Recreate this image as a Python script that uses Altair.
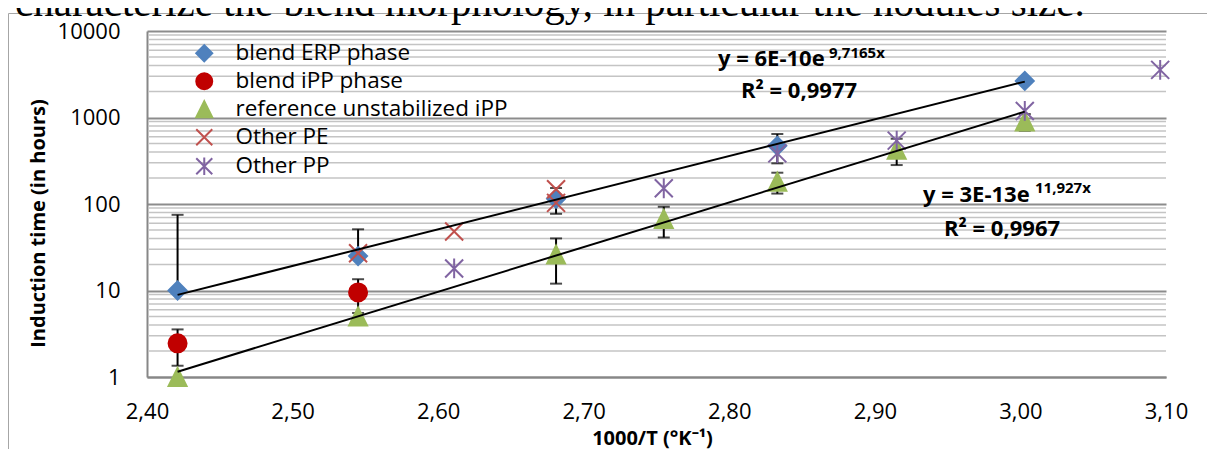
import altair as alt
import pandas as pd

# ---------------- data ----------------
series_names = ["blend ERP phase", "blend iPP phase", "reference unstabilized iPP", "Other PE", "Other PP"]
series_colors = ["#4F81BD", "#C00000", "#9BBB59", "#C0504D", "#8064A2"]
series_shapes = ["diamond", "circle", "M0,-1L1,1L-1,1Z",
                 "M-1,-1L1,1M-1,1L1,-1", "M-1,-1L1,1M-1,1L1,-1M0,-1.1L0,1.1"]
series_fill = ["#4F81BD", "#C00000", "#9BBB59", "transparent", "transparent"]

erp_x = [2.421, 2.545, 2.681, 2.833, 3.003]
erp_y = [10, 25, 115, 470, 2650]
erp_err = [65, 26, 38, 175, 0]

ipp_x = [2.421, 2.545]
ipp_y = [2.45, 9.5]
ipp_err = [1.1, 4.0]

ref_x = [2.421, 2.545, 2.681, 2.755, 2.833, 2.915, 3.003]
ref_y = [1.0, 5.0, 26, 67, 181, 425, 900]
ref_err = [0, 0, 14, 26, 49, 143, 195]

pe_x = [2.545, 2.611, 2.681, 2.681]
pe_y = [27, 48, 148, 103]

pp_x = [2.611, 2.755, 2.833, 2.915, 3.003, 3.096]
pp_y = [18, 152, 385, 540, 1190, 3550]

trend_x = [2.421, 3.003]
trend_upper_y = [8.9, 2600]
trend_lower_y = [1.15, 1170]

x_ticks = [2.40, 2.50, 2.60, 2.70, 2.80, 2.90, 3.00, 3.10]
y_ticks = [1, 10, 100, 1000, 10000]
y_minor = [m * 10 ** d for d in range(4) for m in range(2, 10)]

# ---------------- tables ----------------
rows = []
for name, xs, ys in [(series_names[0], erp_x, erp_y), (series_names[1], ipp_x, ipp_y),
                     (series_names[2], ref_x, ref_y), (series_names[3], pe_x, pe_y),
                     (series_names[4], pp_x, pp_y)]:
    for a, b in zip(xs, ys):
        rows.append({"series": name, "x": a, "y": b})
points = pd.DataFrame(rows)

err_rows, cap_rows = [], []
for xs, ys, es in [(erp_x, erp_y, erp_err), (ipp_x, ipp_y, ipp_err), (ref_x, ref_y, ref_err)]:
    for a, b, e in zip(xs, ys, es):
        if e <= 0:
            continue
        hi = b + e
        lo = b - e
        err_rows.append({"x": a, "y": lo if lo > 0 else b, "hi": hi})
        cap_rows.append({"x": a, "y": hi})
        if lo > 0:
            cap_rows.append({"x": a, "y": lo})
errs = pd.DataFrame(err_rows)
caps = pd.DataFrame(cap_rows)

trend = pd.DataFrame({"x": trend_x * 2, "y": trend_upper_y + trend_lower_y,
                      "line": ["upper"] * 2 + ["lower"] * 2})
minor = pd.DataFrame({"x": [2.4] * len(y_minor), "y": y_minor})

W, H = 1019, 346
FONT = "Open Sans"

xscale = alt.Scale(domain=[2.40, 3.10], nice=False, zero=False, padding=0)
yscale = alt.Scale(type="log", domain=[1, 10000], nice=False, padding=0)

x_axis = alt.Axis(values=x_ticks, labelExpr="replace(format(datum.value, '.2f'), '.', ',')",
                  grid=False, ticks=False, tickSize=0, labelPadding=24, labelFlush=False,
                  labelFont=FONT, labelFontSize=22, labelColor="black",
                  domainColor="#878787", domainWidth=2,
                  title="1000/T (°K⁻¹)", titleFont=FONT, titleFontSize=20, titleFontWeight="bold",
                  titleColor="black", titleX=505, titleY=61, titleBaseline="middle", titleAlign="center")
y_axis = alt.Axis(values=y_ticks, format="d", grid=True, gridColor="#8c8c8c", gridWidth=2,
                  ticks=False, tickSize=0, labelPadding=27, labelFlush=False,
                  labelFont=FONT, labelFontSize=22, labelColor="black",
                  domainColor="#878787", domainWidth=2,
                  title="Induction time (in hours)", titleFont=FONT, titleFontSize=20,
                  titleFontWeight="bold", titleColor="black", titleAngle=270,
                  titleX=-109, titleY=192, titleBaseline="middle", titleAlign="center")

X = alt.X("x:Q", scale=xscale, axis=x_axis)
Y = alt.Y("y:Q", scale=yscale, axis=y_axis)

one = pd.DataFrame({"k": [0]})


def txt(s, x, y, size, weight="normal", font=FONT, align="left"):
    return alt.Chart(one).mark_text(text=s, align=align, baseline="alphabetic", font=font,
                                    fontSize=size, fontWeight=weight, color="black").encode(
        x=alt.value(x), y=alt.value(y))


# frame of the embedded chart and cut text above it
frame_v = alt.Chart(one).mark_rule(color="#a6a6a6", strokeWidth=1).encode(
    x=alt.value(-138.5), y=alt.value(-17.5), y2=alt.value(H + 200))
frame_h = alt.Chart(one).mark_rule(color="#a6a6a6", strokeWidth=1).encode(
    x=alt.value(-138.5), x2=alt.value(W + 200), y=alt.value(-17.5))
top_text = txt("characterize the blend morphology, in particular the nodules size.",
               -132, -15, 41, font="Liberation Serif")

minor_grid = alt.Chart(minor).mark_rule(color="#c4c4c4", strokeWidth=1.5).encode(
    y=Y, x=alt.value(1), x2=alt.value(W))

err_rule = alt.Chart(errs).mark_rule(color="black", strokeWidth=2).encode(
    x=X, y=Y, y2="hi:Q")
err_cap = alt.Chart(caps).mark_tick(color="black", orient="horizontal", size=12, thickness=2).encode(
    x=X, y=Y)

leg = alt.Legend(title=None, orient="none", legendX=46, legendY=11)
pts = alt.Chart(points).mark_point(filled=False, opacity=1, size=324, strokeWidth=2).encode(
    x=X, y=Y,
    shape=alt.Shape("series:N", scale=alt.Scale(domain=series_names, range=series_shapes), legend=leg),
    stroke=alt.Stroke("series:N", scale=alt.Scale(domain=series_names, range=series_colors), legend=leg),
    fill=alt.Fill("series:N", scale=alt.Scale(domain=series_names, range=series_fill), legend=leg),
)

trend_lines = alt.Chart(trend).mark_line(color="black", strokeWidth=2).encode(
    x=X, y=Y, detail="line:N")

eq1 = txt("y = 6E-10e", 571, 35, 22, "bold")
eq1s = txt("9,7165x", 682, 26.5, 15, "bold")
r1 = txt("R² = 0,9977", 594, 67, 22, "bold")
eq2 = txt("y = 3E-13e", 776, 170.5, 22, "bold")
eq2s = txt("11,927x", 888, 161.5, 15, "bold")
r2 = txt("R² = 0,9967", 797, 205, 22, "bold")

chart = alt.layer(
    frame_v, frame_h, top_text, minor_grid, err_rule, err_cap, pts, trend_lines,
    eq1, eq1s, r1, eq2, eq2s, r2
).properties(
    width=W, height=H,
    autosize=alt.AutoSizeParams(type="none"),
    padding={"left": 139, "top": 23, "right": 41, "bottom": 72},
    background="white",
).configure_view(stroke=None).configure_legend(
    labelFont=FONT, labelFontSize=22.5, labelColor="black", symbolSize=256, symbolStrokeWidth=2,
    rowPadding=3, labelOffset=20, padding=0, labelLimit=500
)

chart.save("out.html", embed_options={"renderer": "svg", "actions": False})
